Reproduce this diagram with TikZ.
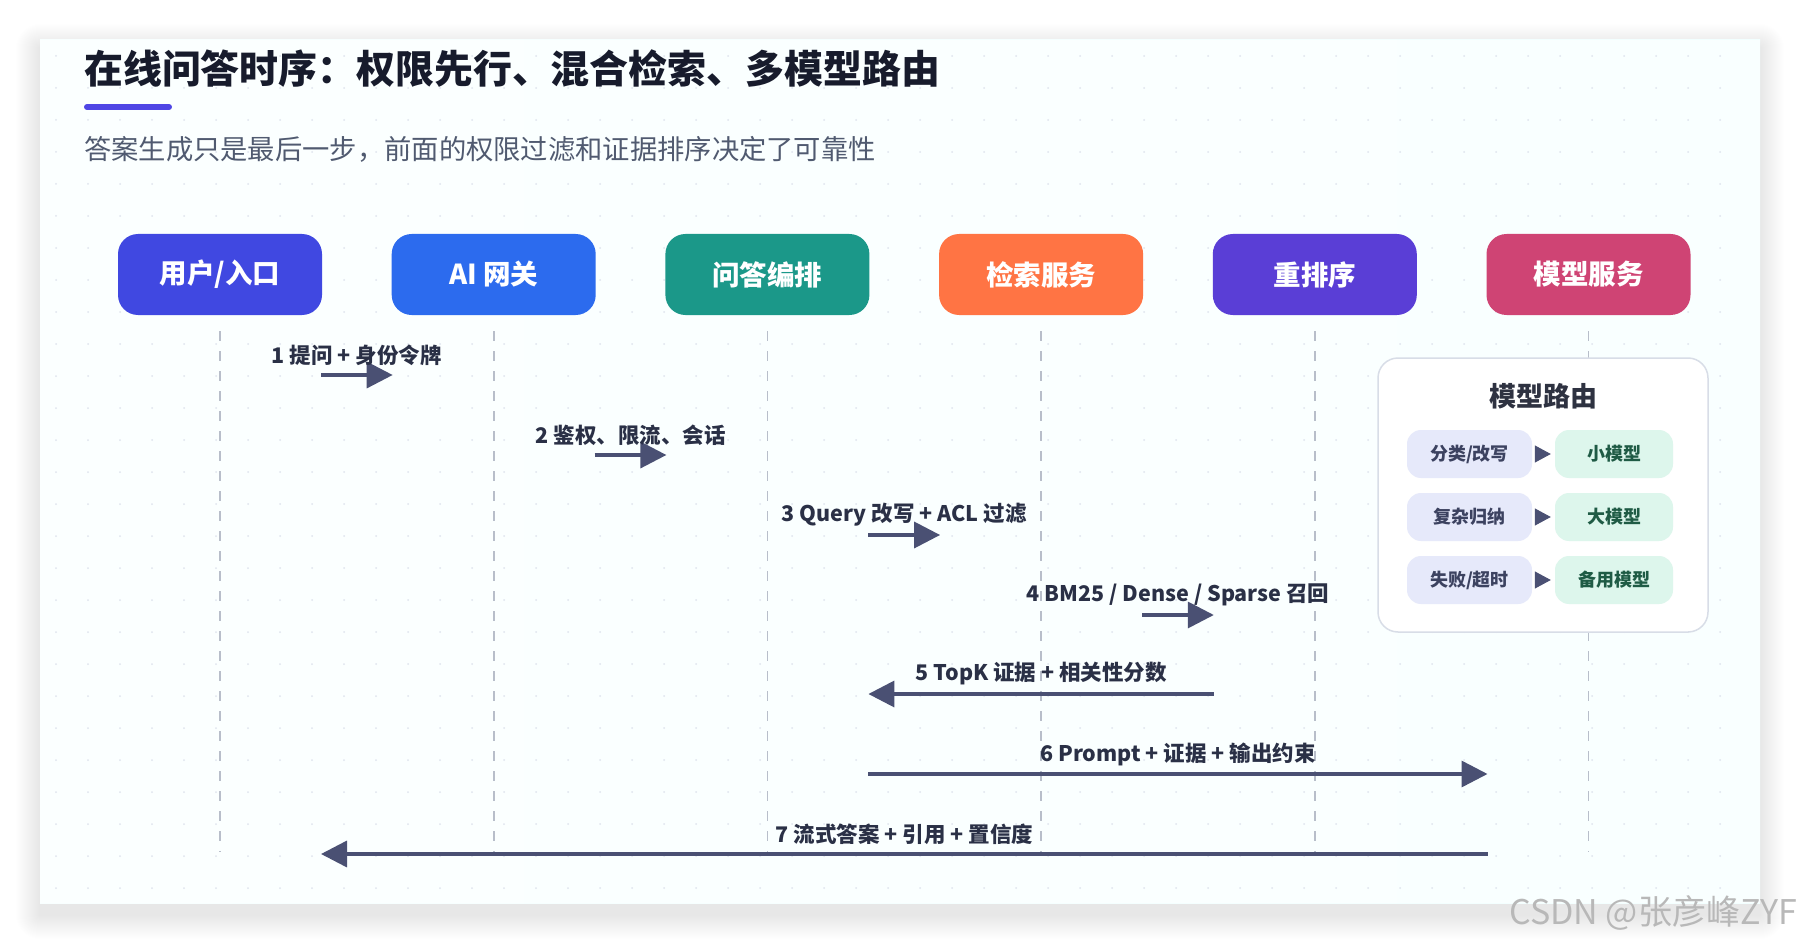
\documentclass[tikz,border=0pt]{standalone}
\usepackage{fontspec}
\setmainfont{Noto Sans CJK SC}
\usetikzlibrary{arrows.meta}

\definecolor{userBlue}{HTML}{4048E1}
\definecolor{gwBlue}{HTML}{2C6BEE}
\definecolor{orchTeal}{HTML}{1B9889}
\definecolor{retrOrange}{HTML}{FF7444}
\definecolor{rerankPurple}{HTML}{5A3ED6}
\definecolor{modelPink}{HTML}{CF4474}
\definecolor{arrowInk}{HTML}{4A5073}
\definecolor{labelInk}{HTML}{2A3046}
\definecolor{titleInk}{HTML}{171B2C}
\definecolor{subInk}{HTML}{505A70}
\definecolor{barIndigo}{HTML}{4F46E5}
\definecolor{laneGray}{HTML}{B8BECA}
\definecolor{panelLine}{HTML}{D8DDE7}
\definecolor{routeIn}{HTML}{E6E9FA}
\definecolor{routeInText}{HTML}{3C4260}
\definecolor{routeOut}{HTML}{DDF6EC}
\definecolor{routeOutText}{HTML}{1F5B45}
\definecolor{dotGray}{HTML}{DFE4EE}

\tikzset{
  head/.style={rounded corners=20pt, minimum width=204pt, minimum height=81pt,
    inner sep=0pt, text=white, font=\fontsize{27.5}{30}\selectfont\bfseries},
  lane/.style={draw=laneGray, line width=1.6pt, dash pattern=on 10pt off 10pt},
  msg/.style={draw=arrowInk, line width=3.5pt, -{Triangle[length=26pt,width=26pt]}},
  msglabel/.style={inner sep=0pt, text=labelInk, font=\fontsize{21.5}{24}\selectfont\bfseries},
  routein/.style={fill=routeIn, rounded corners=14pt, minimum width=125pt, minimum height=48pt,
    inner sep=0pt, text=routeInText, font=\fontsize{18}{20}\selectfont\bfseries},
  routeout/.style={fill=routeOut, rounded corners=14pt, minimum width=118pt, minimum height=48pt,
    inner sep=0pt, text=routeOutText, font=\fontsize{18}{20}\selectfont\bfseries},
  routetip/.style={draw=arrowInk, line width=1pt, -{Triangle[length=16pt,width=17pt]}}
}

\begin{document}
\begin{tikzpicture}[x=1pt,y=-1pt]
  \useasboundingbox (0,0) rectangle (1800,944);
  \fill[white] (0,0) rectangle (1800,944);
  % card shadow
  \foreach \i in {1,...,24}
    \fill[black, opacity=0.005, rounded corners=\i pt] (40-\i,40-\i+8) rectangle (1760+\i,903+\i+12);
  \shade[left color=white!40!routeIn!35!cyan!4, right color=cyan!5!white] (40,40) rectangle (1760,903);
  \fill[white, opacity=0.55] (40,40) rectangle (1760,903);
  \foreach \x in {56,88,...,1744}
    \foreach \y in {56,88,...,888}
      \fill[dotGray] (\x,\y) circle (1pt);

  % title
  \node[anchor=west, inner sep=0pt, text=titleInk, font=\fontsize{38.9}{42}\selectfont\bfseries] (title) at (84,69) {在线问答时序：权限先行、混合检索、多模型路由};
  \draw[barIndigo, line width=6pt, line cap=round] (87,107) -- (169,107);
  \node[anchor=west, inner sep=0pt, text=subInk, font=\fontsize{27.3}{30}\selectfont] (subtitle) at (84,149) {答案生成只是最后一步，前面的权限过滤和证据排序决定了可靠性};

  % participants
  \node[head, fill=userBlue] (user) at (220,274.5) {用户/入口};
  \node[head, fill=gwBlue] (gw) at (493.7,274.5) {AI 网关};
  \node[head, fill=orchTeal] (orch) at (767.4,274.5) {问答编排};
  \node[head, fill=retrOrange] (retr) at (1041.1,274.5) {检索服务};
  \node[head, fill=rerankPurple] (rerank) at (1314.8,274.5) {重排序};
  \node[head, fill=modelPink] (model) at (1588.5,274.5) {模型服务};

  % lifelines
  \coordinate (lanebottom) at (0,852);
  \draw[lane] ([yshift=-16pt]user.south) -- (user.south |- lanebottom);
  \draw[lane] ([yshift=-16pt]gw.south) -- (gw.south |- lanebottom);
  \draw[lane] ([yshift=-16pt]orch.south) -- (orch.south |- lanebottom);
  \draw[lane] ([yshift=-16pt]retr.south) -- (retr.south |- lanebottom);
  \draw[lane] ([yshift=-16pt]rerank.south) -- (rerank.south |- lanebottom);
  \draw[lane] ([yshift=-16pt]model.south) -- (model.south |- lanebottom);

  % messages
  \coordinate (m1a) at (321,375);    \coordinate (m1b) at (392.7,375);
  \coordinate (m2a) at (594.7,455);  \coordinate (m2b) at (666.4,455);
  \coordinate (m3a) at (868.4,535);  \coordinate (m3b) at (940.1,535);
  \coordinate (m4a) at (1142.1,615); \coordinate (m4b) at (1213.8,615);
  \coordinate (m5a) at (1213.8,694); \coordinate (m5b) at (868.4,694);
  \coordinate (m6a) at (868.4,774);  \coordinate (m6b) at (1487.5,774);
  \coordinate (m7a) at (1487.5,854); \coordinate (m7b) at (321,854);
  \draw[msg] (m1a) -- (m1b);
  \draw[msg] (m2a) -- (m2b);
  \draw[msg] (m3a) -- (m3b);
  \draw[msg] (m4a) -- (m4b);
  \draw[msg] (m5a) -- (m5b);
  \draw[msg] (m6a) -- (m6b);
  \draw[msg] (m7a) -- (m7b);
  \node[msglabel] (l1) at (356.9,355) {1 提问 + 身份令牌};
  \node[msglabel] (l2) at (630.6,435) {2 鉴权、限流、会话};
  \node[msglabel] (l3) at (904.3,515) {3 Query 改写 + ACL 过滤};
  \node[msglabel] (l4) at (1178,595) {4 BM25 / Dense / Sparse 召回};
  \node[msglabel] (l5) at (1041.1,674) {5 TopK 证据 + 相关性分数};
  \node[msglabel] (l6) at (1178,754) {6 Prompt + 证据 + 输出约束};
  \node[msglabel] (l7) at (904.3,834) {7 流式答案 + 引用 + 置信度};

  % model routing panel
  \node[fill=white, draw=panelLine, line width=1.5pt, rounded corners=20pt,
    minimum width=330pt, minimum height=274pt] (route) at (1543,495) {};
  \node[inner sep=0pt, text=titleInk!90!white, font=\fontsize{27}{30}\selectfont\bfseries] (routetitle) at (1543,396) {模型路由};
  \node[routein] (in1) at (1469.5,454) {分类/改写};
  \node[routein] (in2) at (1469.5,517) {复杂归纳};
  \node[routein] (in3) at (1469.5,580) {失败/超时};
  \node[routeout] (out1) at (1614,454) {小模型};
  \node[routeout] (out2) at (1614,517) {大模型};
  \node[routeout] (out3) at (1614,580) {备用模型};
  \draw[routetip] ([xshift=3pt]in1.east) -- ([xshift=-4pt]out1.west);
  \draw[routetip] ([xshift=3pt]in2.east) -- ([xshift=-4pt]out2.west);
  \draw[routetip] ([xshift=3pt]in3.east) -- ([xshift=-4pt]out3.west);

  % watermark
  \node[anchor=east, inner sep=0pt, text=black!28, font=\fontsize{34}{36}\selectfont] (mark) at (1797,913) {CSDN @张彦峰ZYF};
\end{tikzpicture}
\end{document}
